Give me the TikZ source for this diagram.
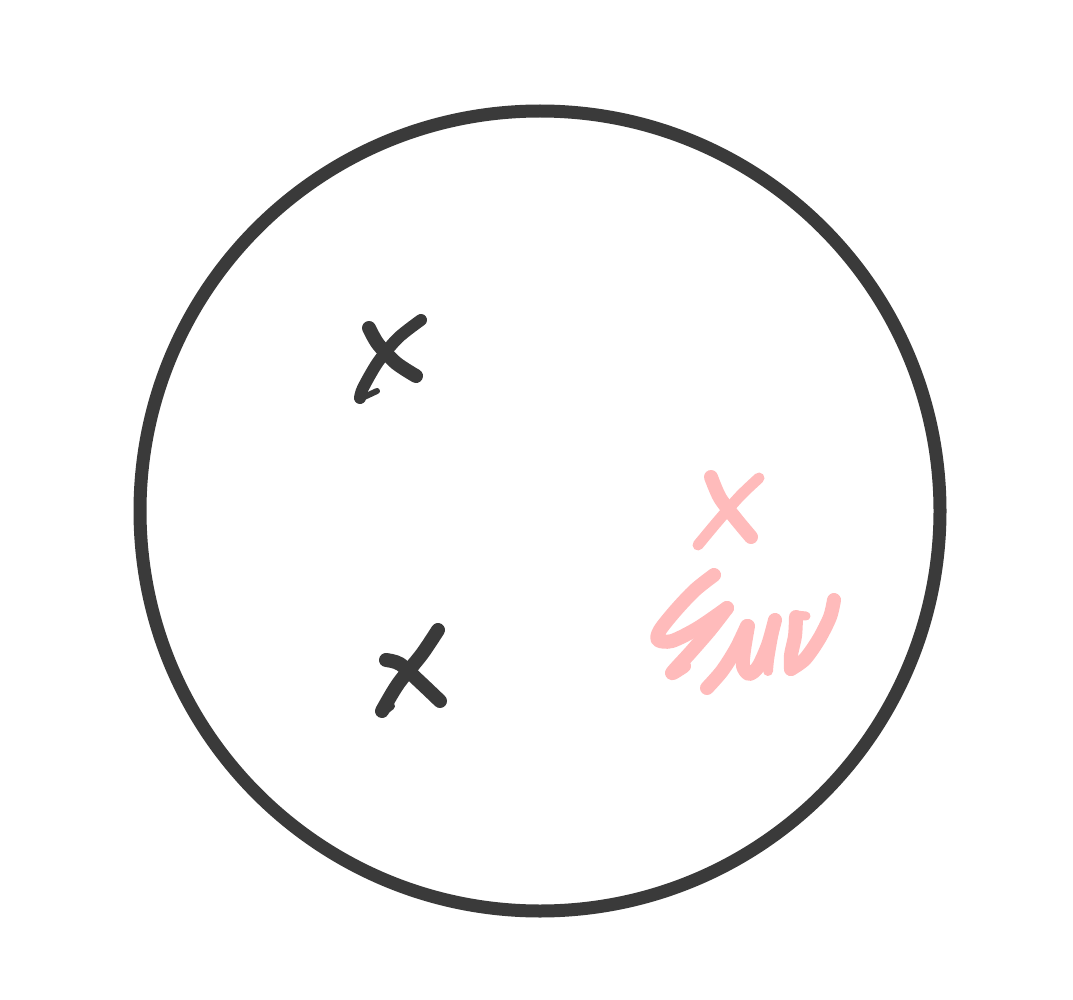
\documentclass[tikz,border=0pt]{standalone}
\begin{document}
\begin{tikzpicture}[x=1pt,y=-1pt,
  ink/.style={draw=inkgray,line width=14pt,line cap=round,line join=round},
  pinkink/.style={draw=pinkink,line width=14pt,line cap=round,line join=round}]
\definecolor{inkgray}{HTML}{3A3A3A}
\definecolor{pinkink}{HTML}{FFBBBB}
\useasboundingbox (0,0) rectangle (1073,1000);
% circle
\draw[draw=inkgray,line width=13pt] (540,511) circle [radius=400];
% dark x 1
\draw[ink] plot[smooth,tension=0.5] coordinates {(369,328) (378,344) (396,363) (416,376)};
\draw[ink,line width=12pt] plot[smooth,tension=0.5] coordinates {(421,320) (398,338) (378,362) (363,388) (360,398)};
\draw[ink,line width=6pt] (362,398) -- (377,391);
% dark x 2
\draw[ink] plot[smooth,tension=0.5] coordinates {(438,630) (422,654) (398,684) (382,711)};
\draw[ink,line width=8pt] (382,713) -- (391,706);
\draw[ink] plot[smooth,tension=0.5] coordinates {(386,660) (400,664) (420,682) (440,701)};
% pink x
\draw[pinkink] plot[smooth,tension=0.5] coordinates {(711,477) (720,498) (736,519) (751,537)};
\draw[pinkink,line width=11pt] plot[smooth,tension=0.5] coordinates {(759,478) (740,496) (718,521) (698,545)};
% pink S
\draw[pinkink] plot[smooth,tension=0.5] coordinates {(714,575) (695,590) (676,610) (660,630) (658,640) (672,641) (698,628) (727,608)};
\draw[pinkink] plot[smooth,tension=0.5] coordinates {(727,608) (710,630) (690,653) (672,673) (684,666)};
% pink u
\draw[pinkink] plot[smooth,tension=0.5] coordinates {(707,688) (722,671) (736,649) (747,626)};
\draw[pinkink] plot[smooth,tension=0.5] coordinates {(748,626) (744,650) (743,666) (749,674) (758,667) (768,645) (775,620)};
\draw[pinkink,line width=10pt] plot[smooth,tension=0.5] coordinates {(776,620) (772,642) (769,660) (768,671)};
% pink v
\draw[pinkink] plot[smooth,tension=0.5] coordinates {(796,617) (795,636) (791,655) (791,669)};
\draw[pinkink] plot[smooth,tension=0.5] coordinates {(791,669) (805,659) (819,639) (830,617) (834,600)};
\draw[pinkink,line width=9pt] (796,615) -- (806,616);
\end{tikzpicture}
\end{document}
